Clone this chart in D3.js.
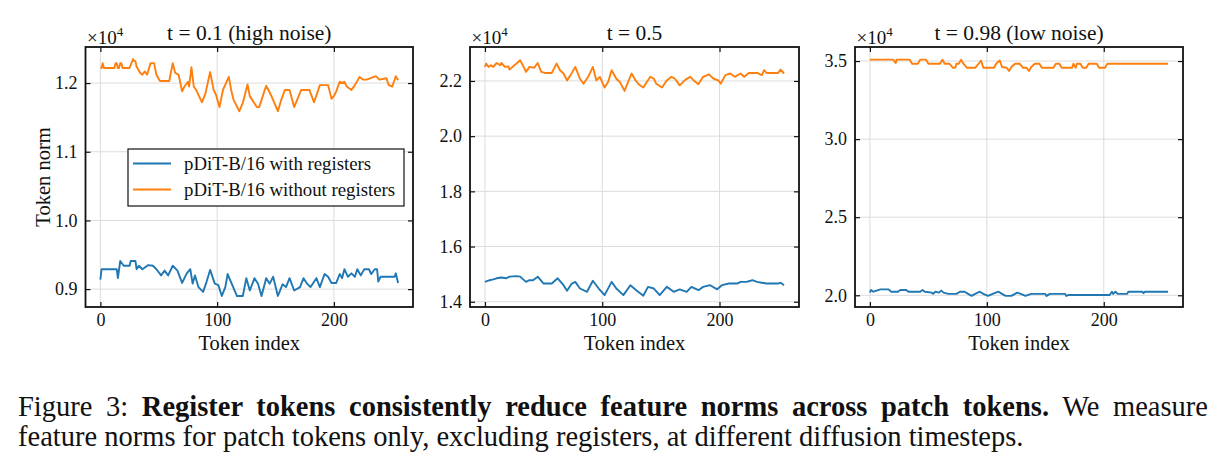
<!DOCTYPE html>
<html>
<head>
<meta charset="utf-8">
<script src="https://cdn.jsdelivr.net/npm/d3@7"></script>
<style>
  body { margin: 0; background: #fff; }
  svg { display: block; }
  text { font-family: "Liberation Serif", "Times New Roman", serif; fill: #111; }
</style>
</head>
<body>
<svg width="1218" height="472"></svg>
<script>
// token norms (x10^4) as [token index, norm] vertices
const p1With = [[0,0.914],[1,0.929],[14,0.929],[15,0.916],[17,0.941],[20,0.934],[25,0.934],[26,0.941],[30,0.941],[31,0.929],[33,0.934],[36,0.929],[41,0.935],[45,0.934],[48,0.929],[52,0.920],[55,0.927],[58,0.920],[62,0.934],[66,0.927],[70,0.909],[74,0.923],[77,0.929],[79,0.908],[81,0.920],[84,0.903],[88,0.896],[91,0.911],[94,0.928],[98,0.908],[101,0.906],[104,0.890],[107,0.903],[109,0.922],[114,0.902],[117,0.890],[122,0.890],[125,0.916],[128,0.898],[132,0.916],[135,0.908],[138,0.890],[142,0.916],[145,0.908],[148,0.918],[152,0.890],[156,0.907],[159,0.903],[162,0.916],[166,0.898],[171,0.903],[174,0.916],[177,0.908],[180,0.903],[185,0.916],[188,0.903],[192,0.922],[195,0.918],[198,0.909],[202,0.909],[205,0.922],[207,0.916],[209,0.929],[212,0.918],[215,0.923],[218,0.918],[220,0.929],[223,0.920],[226,0.929],[230,0.929],[232,0.922],[235,0.929],[237,0.929],[238,0.911],[240,0.918],[252,0.918],[253,0.923],[255,0.909]];
const p1Without = [[0,1.222],[1,1.222],[2,1.229],[3,1.222],[12,1.222],[13,1.229],[14,1.229],[15,1.222],[16,1.222],[17,1.229],[18,1.229],[19,1.222],[25,1.222],[28,1.235],[29,1.232],[30,1.232],[31,1.224],[34,1.215],[36,1.212],[38,1.217],[40,1.212],[43,1.229],[46,1.229],[48,1.212],[51,1.203],[59,1.203],[62,1.229],[64,1.215],[67,1.212],[70,1.188],[72,1.195],[75,1.202],[76,1.195],[78,1.223],[80,1.195],[82,1.190],[87,1.172],[90,1.185],[94,1.216],[97,1.190],[99,1.183],[102,1.165],[105,1.190],[110,1.209],[112,1.190],[114,1.176],[119,1.159],[122,1.171],[126,1.198],[128,1.181],[134,1.165],[136,1.165],[142,1.196],[146,1.183],[152,1.159],[155,1.176],[158,1.190],[162,1.190],[166,1.165],[172,1.190],[179,1.190],[183,1.172],[188,1.197],[195,1.197],[198,1.177],[200,1.181],[202,1.188],[205,1.202],[207,1.200],[209,1.202],[211,1.195],[215,1.190],[218,1.197],[222,1.209],[225,1.205],[228,1.205],[236,1.210],[239,1.205],[245,1.207],[247,1.197],[250,1.195],[253,1.210],[255,1.204]];

const p2With = [[0,1.472],[4,1.478],[7,1.481],[10,1.485],[14,1.488],[18,1.485],[21,1.491],[27,1.493],[30,1.491],[35,1.472],[38,1.478],[41,1.478],[45,1.491],[50,1.466],[57,1.466],[62,1.485],[67,1.460],[70,1.440],[74,1.466],[77,1.472],[81,1.448],[87,1.436],[92,1.476],[97,1.448],[102,1.424],[108,1.472],[112,1.448],[118,1.424],[124,1.460],[129,1.442],[135,1.422],[139,1.454],[144,1.448],[149,1.424],[155,1.454],[161,1.436],[166,1.445],[172,1.436],[176,1.454],[182,1.442],[186,1.454],[192,1.460],[198,1.445],[202,1.460],[208,1.466],[215,1.466],[218,1.472],[223,1.472],[228,1.478],[232,1.472],[236,1.469],[240,1.466],[250,1.466],[252,1.469],[255,1.460]];
const p2Without = [[0,2.251],[1,2.263],[3,2.251],[5,2.257],[7,2.251],[10,2.265],[13,2.257],[14,2.265],[17,2.251],[20,2.253],[21,2.241],[24,2.253],[27,2.263],[30,2.275],[33,2.251],[35,2.233],[38,2.251],[42,2.248],[45,2.265],[48,2.233],[51,2.229],[57,2.229],[61,2.263],[64,2.239],[67,2.227],[70,2.202],[73,2.221],[77,2.251],[81,2.208],[84,2.190],[88,2.215],[92,2.251],[95,2.202],[98,2.215],[102,2.176],[105,2.196],[108,2.239],[112,2.208],[115,2.196],[119,2.164],[122,2.196],[125,2.227],[128,2.205],[131,2.188],[135,2.176],[138,2.196],[141,2.215],[144,2.208],[146,2.190],[151,2.176],[155,2.202],[159,2.215],[162,2.208],[166,2.184],[171,2.205],[175,2.215],[178,2.202],[182,2.188],[186,2.215],[191,2.224],[195,2.208],[199,2.202],[201,2.190],[205,2.221],[209,2.227],[213,2.215],[218,2.227],[221,2.215],[225,2.229],[232,2.229],[236,2.221],[238,2.239],[240,2.229],[250,2.229],[252,2.241],[255,2.227]];

const p3With = [[0,2.017],[1,2.034],[3,2.023],[9,2.038],[16,2.038],[18,2.023],[24,2.023],[26,2.034],[31,2.034],[33,2.023],[43,2.023],[45,2.034],[47,2.023],[53,2.017],[54,2.009],[56,2.023],[59,2.017],[61,2.030],[63,2.017],[67,2.009],[74,2.009],[77,2.023],[81,2.023],[84,2.009],[87,1.996],[90,2.009],[94,2.023],[97,2.009],[101,1.996],[105,2.009],[110,2.023],[113,2.009],[116,1.996],[121,1.996],[126,2.017],[129,2.009],[133,1.996],[138,2.009],[150,2.009],[151,1.996],[154,2.009],[167,2.009],[168,1.996],[170,2.002],[205,2.002],[207,2.023],[208,2.009],[210,2.023],[212,2.009],[220,2.009],[221,2.023],[233,2.023],[234,2.013],[235,2.023],[255,2.023]];
const p3Without = [[0,3.509],[20,3.509],[22,3.487],[23,3.509],[34,3.509],[36,3.483],[41,3.483],[43,3.509],[48,3.509],[50,3.483],[60,3.483],[62,3.509],[64,3.483],[68,3.483],[71,3.457],[73,3.457],[74,3.483],[76,3.483],[78,3.509],[80,3.483],[83,3.457],[90,3.457],[93,3.483],[95,3.504],[97,3.457],[106,3.457],[108,3.483],[111,3.504],[113,3.462],[117,3.457],[119,3.436],[121,3.462],[124,3.483],[128,3.483],[131,3.457],[134,3.457],[136,3.436],[138,3.462],[141,3.483],[145,3.483],[147,3.457],[157,3.457],[159,3.483],[162,3.483],[164,3.457],[173,3.457],[174,3.483],[176,3.457],[177,3.483],[180,3.483],[182,3.457],[185,3.457],[187,3.483],[194,3.483],[196,3.457],[201,3.457],[203,3.483],[255,3.483]];

const xTicks = [0, 100, 200];
const p1Ticks = [0.9, 1.0, 1.1, 1.2];
const p2Ticks = [1.4, 1.6, 1.8, 2.0, 2.2];
const p3Ticks = [2.0, 2.5, 3.0, 3.5];
const titles = ['t = 0.1 (high noise)', 't = 0.5', 't = 0.98 (low noise)'];
const seriesNames = ['pDiT-B/16 with registers', 'pDiT-B/16 without registers'];
const colors = ['#1f77b4', '#ff7f0e'];

const svg = d3.select('svg');

const panels = [
  { left: 85.5, right: 413, yDomain: [0.874, 1.2525], ticks: p1Ticks, data: [p1With, p1Without], title: titles[0], ylabel: true, legend: true },
  { left: 470, right: 799, yDomain: [1.381, 2.323], ticks: p2Ticks, data: [p2With, p2Without], title: titles[1] },
  { left: 855, right: 1183, yDomain: [1.925, 3.59], ticks: p3Ticks, data: [p3With, p3Without], title: titles[2] }
];
const plotTop = 47, plotBottom = 307;

panels.forEach((p) => {
  const x = d3.scaleLinear().domain([-12.75, 267.75]).range([p.left, p.right]);
  const y = d3.scaleLinear().domain(p.yDomain).range([plotBottom, plotTop]);
  const g = svg.append('g');

  // grid
  g.append('g').selectAll('line').data(xTicks).join('line')
    .attr('x1', (d) => x(d)).attr('x2', (d) => x(d))
    .attr('y1', plotTop).attr('y2', plotBottom)
    .attr('stroke', '#dcdcdc').attr('stroke-width', 1);
  g.append('g').selectAll('line').data(p.ticks).join('line')
    .attr('x1', p.left).attr('x2', p.right)
    .attr('y1', (d) => y(d)).attr('y2', (d) => y(d))
    .attr('stroke', '#dcdcdc').attr('stroke-width', 1);

  // lines
  const line = d3.line().x((d) => x(d[0])).y((d) => y(d[1]));
  p.data.forEach((s, i) => {
    g.append('path').datum(s)
      .attr('d', line)
      .attr('fill', 'none')
      .attr('stroke', colors[i])
      .attr('stroke-width', 1.9)
      .attr('stroke-linejoin', 'round');
  });

  // axes with inward ticks, on all four sides
  const fmt = d3.format('.1f');
  g.append('g').attr('transform', `translate(0,${plotBottom})`)
    .call(d3.axisBottom(x).tickValues(xTicks).tickSizeInner(-5).tickSizeOuter(0).tickPadding(6));
  g.append('g').attr('transform', `translate(0,${plotTop})`)
    .call(d3.axisTop(x).tickValues(xTicks).tickSizeInner(-5).tickSizeOuter(0).tickFormat(''));
  g.append('g').attr('transform', `translate(${p.left},0)`)
    .call(d3.axisLeft(y).tickValues(p.ticks).tickFormat(fmt).tickSizeInner(-5).tickSizeOuter(0).tickPadding(8));
  g.append('g').attr('transform', `translate(${p.right},0)`)
    .call(d3.axisRight(y).tickValues(p.ticks).tickSizeInner(-5).tickSizeOuter(0).tickFormat(''));
  g.selectAll('.domain').remove();
  g.selectAll('.tick line').attr('stroke', '#111').attr('stroke-width', 1.2);
  g.selectAll('.tick text').attr('font-size', 18).attr('fill', '#111')
    .style('font-family', '"Liberation Serif", serif');

  // frame
  g.append('rect')
    .attr('x', p.left).attr('y', plotTop)
    .attr('width', p.right - p.left).attr('height', plotBottom - plotTop)
    .attr('fill', 'none').attr('stroke', '#111').attr('stroke-width', 1.8);

  // title, offset text, x label
  g.append('text')
    .attr('x', (p.left + p.right) / 2).attr('y', 40)
    .attr('text-anchor', 'middle').attr('font-size', 21.5)
    .text(p.title);
  const off = g.append('text').attr('x', p.left + 1.5).attr('y', 44).attr('font-size', 19);
  off.append('tspan').text('×10');
  off.append('tspan').attr('dy', -8).attr('font-size', 13).text('4');
  g.append('text')
    .attr('x', (p.left + p.right) / 2).attr('y', 349.5)
    .attr('text-anchor', 'middle').attr('font-size', 20.5)
    .text('Token index');

  if (p.ylabel) {
    g.append('text')
      .attr('transform', `translate(50,${(plotTop + plotBottom) / 2}) rotate(-90)`)
      .attr('text-anchor', 'middle').attr('font-size', 20.5)
      .text('Token norm');
  }

  if (p.legend) {
    const lg = g.append('g').attr('transform', 'translate(128,149)');
    lg.append('rect').attr('width', 276).attr('height', 57)
      .attr('fill', '#fff').attr('stroke', '#111').attr('stroke-width', 1.2);
    seriesNames.forEach((name, i) => {
      const yy = 14.5 + i * 26;
      lg.append('line').attr('x1', 5).attr('x2', 43).attr('y1', yy).attr('y2', yy)
        .attr('stroke', colors[i]).attr('stroke-width', 1.9);
      lg.append('text').attr('x', 56).attr('y', yy + 6).attr('font-size', 18.8).text(name);
    });
  }
});

// caption (first line justified like the LaTeX source)
const cap1 = svg.append('text').attr('x', 18).attr('y', 416).attr('font-size', 28.5)
  .style('word-spacing', '6.5px');
cap1.append('tspan').text('Figure 3: ');
cap1.append('tspan').attr('font-weight', 'bold').text('Register tokens consistently reduce feature norms across patch tokens.');
cap1.append('tspan').text(' We measure');
svg.append('text').attr('x', 18).attr('y', 446).attr('font-size', 28.5)
  .text('feature norms for patch tokens only, excluding registers, at different diffusion timesteps.');
</script>
</body>
</html>
